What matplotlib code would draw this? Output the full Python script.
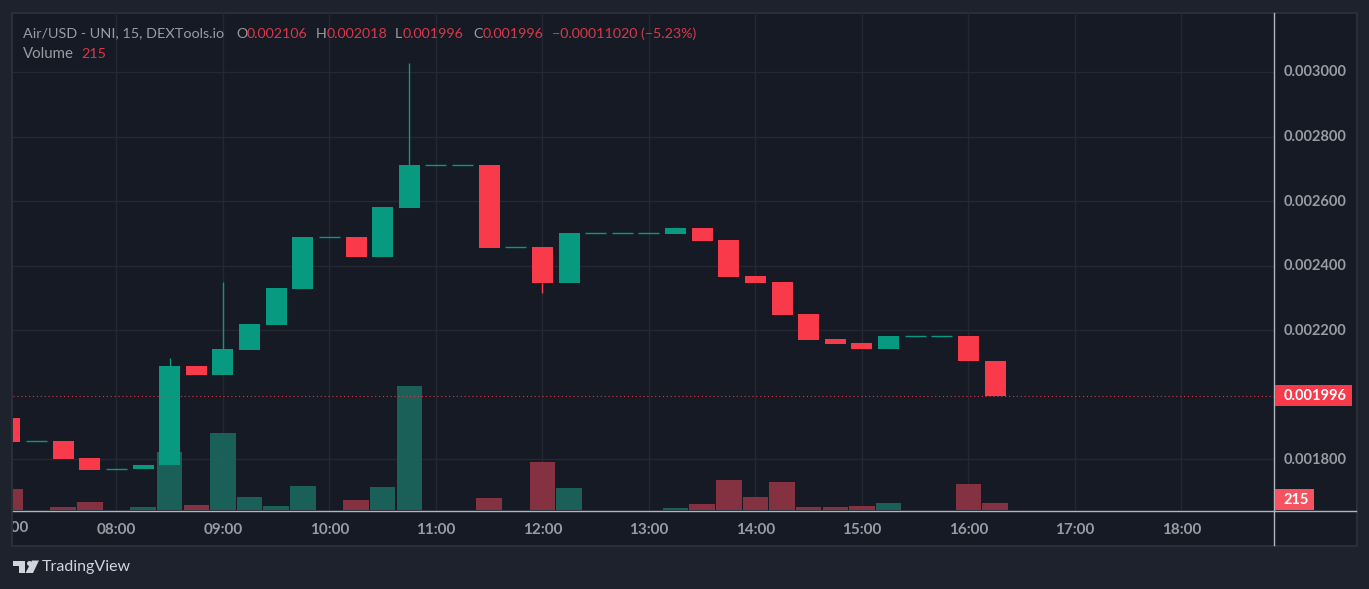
import matplotlib
matplotlib.use('Agg')
import matplotlib.pyplot as plt
from matplotlib.patches import Rectangle, Polygon

# Valeurs (une bougie toutes les 15 min, à partir de 07:00)
heures = [7 + i * 0.25 for i in range(38)]
ouvertures = [0.001929, 0.001857, 0.001858, 0.001805, 0.001770, 0.001770, 0.001783, 0.002090,
              0.002062, 0.002140, 0.002217, 0.002328, 0.002489, 0.002489, 0.002427, 0.002579,
              0.002712, 0.002712, 0.002712, 0.002458, 0.002458, 0.002347, 0.002501, 0.002501,
              0.002501, 0.002498, 0.002517, 0.002480, 0.002368, 0.002350, 0.002251, 0.002173,
              0.002161, 0.002142, 0.002183, 0.002183, 0.002183, 0.002106]
fermetures = [0.001855, 0.001857, 0.001802, 0.001768, 0.001770, 0.001783, 0.002090, 0.002062,
              0.002142, 0.002220, 0.002331, 0.002489, 0.002489, 0.002427, 0.002582, 0.002712,
              0.002712, 0.002712, 0.002455, 0.002458, 0.002347, 0.002502, 0.002501, 0.002501,
              0.002501, 0.002517, 0.002477, 0.002365, 0.002347, 0.002248, 0.002170, 0.002158,
              0.002142, 0.002183, 0.002183, 0.002183, 0.002105, 0.001996]
# Mèches visibles seulement : heure -> extrémité
meches = {8.5: 0.002115, 9.0: 0.002350, 10.75: 0.003028, 12.0: 0.002316}
volumes = [690, 0, 100, 265, 0, 100, 1915, 165, 2540, 430, 130, 790, 0, 330, 760, 4090,
           0, 0, 400, 0, 1585, 725, 0, 0, 0, 66, 200, 990, 430, 925, 100, 100,
           130, 230, 0, 0, 860, 215]
ticks_prix = [0.0018, 0.0020, 0.0022, 0.0024, 0.0026, 0.0028, 0.0030]
ticks_heures = [8, 9, 10, 11, 12, 13, 14, 15, 16, 17, 18]
dernier_prix = 0.001996
dernier_volume = 215

FOND = '#1e222d'
PANNEAU = '#161a25'
GRILLE = '#252833'
BORD = '#2a2e39'
AXE = '#b2b5be'
TEXTE = '#9a9ca3'
VERT = '#089981'
ROUGE = '#f83a4a'
VERT_VOL = '#1c665e'
ROUGE_VOL = '#8e3544'
POLICE = 'Lato'

W, H = 1369, 589
fig = plt.figure(figsize=(W / 100, H / 100), dpi=100, facecolor=FOND)

def fx(px):
    return px / W

def fy(py):
    return 1 - py / H

# Cadre du panneau complet
fig.add_artist(Rectangle((fx(12.5), fy(545.5)), fx(1344.5), 532.5 / H, transform=fig.transFigure,
                         facecolor=PANNEAU, edgecolor=BORD, linewidth=1.5, zorder=0))

ax = fig.add_axes([fx(13), fy(510), fx(1261), 497 / H], facecolor=PANNEAU, zorder=3)
ax.set_xlim(7.029, 18.869)
ax.set_ylim(0.0016435, 0.0031825)
ax_vol = ax.twinx()
ax_vol.set_ylim(0, 16400)
ax_vol.set_yticks([])
ax.patch.set_visible(False)
ax_vol.set_zorder(2)
ax_vol.patch.set_visible(False)

for a in (ax, ax_vol):
    for s in a.spines.values():
        s.set_visible(False)

# Graduations
ax.set_xticks(ticks_heures)
ax.set_xticklabels([f'{h:02d}:00' for h in ticks_heures])
ax.set_yticks([])
ax.tick_params(length=0, axis='both')
ax.tick_params(axis='x', pad=9, labelsize=11, labelcolor=TEXTE)
for lab in ax.get_xticklabels():
    lab.set_fontfamily(POLICE)
    lab.set_fontweight('bold')

# Grille sous les volumes
for h in ticks_heures:
    ax_vol.axvline(h, color=GRILLE, lw=1, zorder=0)
for p in ticks_prix:
    if p != 0.0020:
        ax_vol.plot([0, 1], [p, p], color=GRILLE, lw=1, zorder=0, transform=ax.get_yaxis_transform())
ax_vol.set_xlim(ax.get_xlim())
ax_vol.set_ylim(0, 16400)

# Volumes
couleurs_vol = [ROUGE_VOL if c < o else VERT_VOL for o, c in zip(ouvertures, fermetures)]
ax_vol.bar(heures, volumes, width=0.24, color=couleurs_vol, alpha=0.92, zorder=1)

# Bougies
for h, o, c in zip(heures, ouvertures, fermetures):
    coul = ROUGE if c < o else VERT
    if abs(c - o) < 1e-6:
        ax.plot([h - 0.098, h + 0.098], [c, c], color=VERT, lw=1, zorder=3, solid_capstyle='butt')
    else:
        ax.bar(h, abs(c - o), bottom=min(o, c), width=0.197, color=coul, zorder=3)
for h, m in meches.items():
    i = heures.index(h)
    o, c = ouvertures[i], fermetures[i]
    coul = ROUGE if c < o else VERT
    depart = max(o, c) if m > max(o, c) else min(o, c)
    ax.plot([h, h], [depart, m], color=coul, lw=1, zorder=2, solid_capstyle='butt')

# Ligne du dernier prix
ax.axhline(dernier_prix, color=ROUGE, lw=0.8, ls=(0, (1, 2.5)), alpha=0.85, zorder=4)

# Axes : lignes claires
fig.add_artist(plt.Line2D([fx(1274.2)] * 2, [fy(13), fy(545)], color=AXE, lw=1, zorder=6))
fig.add_artist(plt.Line2D([fx(13), fx(1356)], [fy(510.5)] * 2, color=AXE, lw=1, zorder=6))

# Libellés de prix
for p in ticks_prix:
    if p == 0.0020:
        continue
    ax.annotate(f'{p:.6f}', xy=(1, p), xycoords=('axes fraction', 'data'), xytext=(9.5, -0.5),
                textcoords='offset pixels', color=TEXTE, fontsize=10.5, fontfamily=POLICE,
                fontweight='bold', va='center', ha='left', annotation_clip=False)

# 07:00 coupé par le bord gauche
zone = Rectangle((fx(13), fy(545)), fx(100), 35 / H, transform=fig.transFigure)
t = fig.text(fx(9.5), fy(527.5), '07:00', color=TEXTE, fontsize=11, fontfamily=POLICE,
             fontweight='bold', ha='center', va='center', zorder=6)
t.set_clip_path(zone)
t.set_clip_on(True)

# Étiquettes à droite
fig.add_artist(Rectangle((fx(1275), fy(406)), fx(77), 21 / H, transform=fig.transFigure,
                         facecolor=ROUGE, edgecolor='none', zorder=6))
fig.text(fx(1284), fy(395.5), f'{dernier_prix:.6f}', color='white', fontsize=10.5,
         fontfamily=POLICE, fontweight='bold', va='center', zorder=7)
fig.add_artist(Rectangle((fx(1275), fy(510)), fx(39), 21 / H, transform=fig.transFigure,
                         facecolor='#f7525f', edgecolor='none', zorder=6))
fig.text(fx(1284), fy(499.5), str(dernier_volume), color='white', fontsize=10.5,
         fontfamily=POLICE, fontweight='bold', va='center', zorder=7)

# Légende en haut à gauche
GRIS = '#9a9ca3'
ROUGE_TXT = '#d8394a'
morceaux = [(23, 'Air/USD - UNI, 15, DEXTools.io', GRIS, 10.35), (236, 'O', GRIS, 10.3),
            (247, '0.002106', ROUGE_TXT, 10.3), (316, 'H', GRIS, 10.3), (327, '0.002018', ROUGE_TXT, 10.3),
            (395, 'L', GRIS, 10.3), (403, '0.001996', ROUGE_TXT, 10.3), (473, 'C', GRIS, 10.3),
            (483, '0.001996', ROUGE_TXT, 10.3), (552, '−0.00011020 (−5.23%)', ROUGE_TXT, 10.3)]
for x, s, c, taille in morceaux:
    fig.text(fx(x), fy(33.5), s, color=c, fontsize=taille, fontfamily=POLICE, va='center', zorder=7)
fig.text(fx(23), fy(54.5), 'Volume', color=GRIS, fontsize=10.8, fontfamily=POLICE, va='center', zorder=7)
fig.text(fx(81.5), fy(54.5), str(dernier_volume), color=ROUGE_TXT, fontsize=10.3, fontfamily=POLICE,
         va='center', zorder=7)

# Logo TradingView
LOGO = '#d1d4dc'
def px_xy(pts):
    return [(fx(x), fy(y)) for x, y in pts]
fig.add_artist(Polygon(px_xy([(13, 560.5), (25, 560.5), (25, 573), (19, 573), (19, 566), (13, 566)]),
                       transform=fig.transFigure, facecolor=LOGO, edgecolor='none'))
fig.add_artist(Polygon(px_xy([(32, 560.5), (39, 560.5), (33, 573), (25.5, 573)]),
                       transform=fig.transFigure, facecolor=LOGO, edgecolor='none'))
fig.add_artist(plt.Line2D([fx(28.5)], [fy(563)], marker='o', ms=3.6, color=LOGO, mew=0))
fig.text(fx(42), fy(567.5), 'TradingView', color=LOGO, fontsize=11.5, fontfamily=POLICE, va='center', zorder=7)

fig.savefig('out.png', dpi=100, facecolor=fig.get_facecolor())
